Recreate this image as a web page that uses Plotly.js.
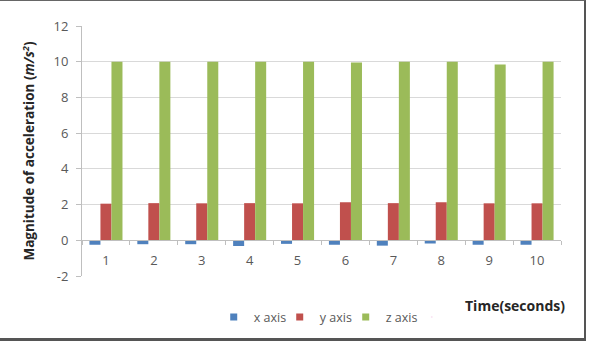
<!DOCTYPE html>
<html>
<head>
<meta charset="utf-8">
<script src="https://cdn.plot.ly/plotly-3.0.1.min.js"></script>
<style>
html,body{margin:0;padding:0;background:#fff;}
#wrap{position:relative;width:589px;height:353px;}
#chart{width:589px;height:353px;}
#frame{position:absolute;left:-3px;top:0;width:587px;height:337px;border-top:1px solid #666;border-right:2px solid #555;border-bottom:3px solid #555;pointer-events:none;}
</style>
</head>
<body>
<div id="wrap"><div id="chart"></div><div id="frame"></div></div>
<script>
const categories = ['1','2','3','4','5','6','7','8','9','10'];
const xAxisValues = [-0.25, -0.22, -0.22, -0.32, -0.2, -0.25, -0.3, -0.18, -0.25, -0.25];
const yAxisValues = [2.05, 2.08, 2.07, 2.08, 2.07, 2.13, 2.08, 2.13, 2.07, 2.07];
const zAxisValues = [10, 10, 10, 10, 10, 9.95, 10, 10, 9.85, 10];
const seriesNames = ['x axis', 'y axis', 'z axis'];
const seriesColors = ['#4f81bd', '#c0504d', '#9bbb59'];
const yTicks = [-2, 0, 2, 4, 6, 8, 10, 12];

const font = 'Open Sans, Noto Sans, sans-serif';
const series = [xAxisValues, yAxisValues, zAxisValues];
const traces = series.map((vals, i) => ({
  type: 'bar', x: categories, y: vals, name: seriesNames[i],
  marker: {color: seriesColors[i]}, showlegend: false, hoverinfo: 'x+y'
}));
seriesNames.forEach((n, i) => traces.push({
  type: 'scatter', mode: 'markers', x: [null], y: [null], name: n,
  marker: {symbol: 'square', size: 7, color: seriesColors[i]}, showlegend: true
}));
// spacer entry so the last legend label is not clipped
traces.push({type: 'scatter', mode: 'markers', x: [null], y: [null], name: ' ',
  marker: {size: 1, opacity: 0}, showlegend: true});

const layout = {
  width: 589, height: 353,
  margin: {l: 82, r: 28, t: 26, b: 77},
  paper_bgcolor: '#fff', plot_bgcolor: '#fff',
  font: {family: font, size: 13, color: '#595959'},
  barmode: 'group', bargap: 0.31, bargroupgap: 0,
  xaxis: {
    type: 'category', anchor: 'free', position: 2/14,
    showline: true, linecolor: '#bfbfbf', linewidth: 1,
    ticks: 'outside', tickson: 'boundaries', ticklen: 4, tickcolor: '#bfbfbf',
    showgrid: false, zeroline: false, ticklabelstandoff: 8,
    tickfont: {size: 13, color: '#595959'}
  },
  yaxis: {
    range: [-2, 12], tickvals: yTicks, ticktext: yTicks.map(String),
    showline: true, linecolor: '#bfbfbf', linewidth: 1,
    ticks: 'outside', ticklen: 5, tickcolor: '#bfbfbf',
    showgrid: true, gridcolor: '#d9d9d9', zeroline: false,
    ticklabelstandoff: 5,
    tickfont: {size: 13, color: '#595959'},
    title: {text: '<b>Magnitude of acceleration (<i>m/s<sup>2</sup></i>)</b>', font: {size: 13.5, color: '#262626'}, standoff: 15}
  },
  legend: {orientation: 'h', x: 0.275, xanchor: 'left', y: -0.165, yanchor: 'middle',
           font: {size: 12.5, color: '#595959'}, itemwidth: 30, entrywidth: 21, tracegroupgap: 0},
  annotations: [{
    text: '<b>Time(seconds)</b>', xref: 'paper', yref: 'paper', x: 1.012, y: -0.116,
    xanchor: 'right', yanchor: 'middle', showarrow: false, font: {size: 14, color: '#262626'}
  }]
};
Plotly.newPlot('chart', traces, layout, {displayModeBar: false, staticPlot: true});
</script>
</body>
</html>
